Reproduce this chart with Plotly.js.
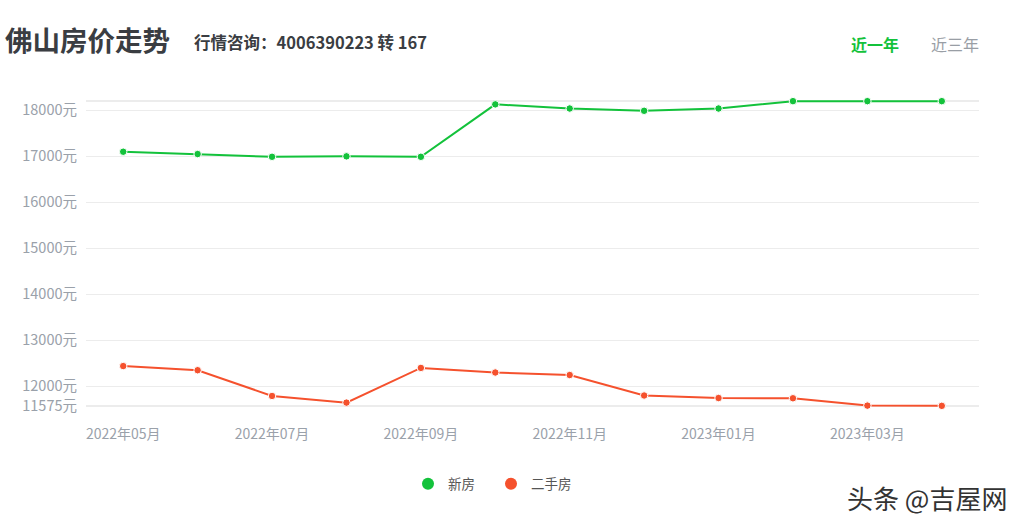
<!DOCTYPE html>
<html>
<head>
<meta charset="utf-8">
<script src="https://cdn.plot.ly/plotly-3.0.1.min.js"></script>
<style>
html,body{margin:0;padding:0;background:#fff;}
#chart{width:1024px;height:528px;}
</style>
</head>
<body>
<div id="chart"></div>
<script>
const months = ["2022年05月","2022年06月","2022年07月","2022年08月","2022年09月","2022年10月","2022年11月","2022年12月","2023年01月","2023年02月","2023年03月","2023年04月"];
const newHouse = [17100, 17050, 16990, 17000, 16990, 18130, 18040, 17990, 18040, 18200, 18200, 18200];
const secondHand = [12440, 12350, 11790, 11645, 12400, 12300, 12245, 11800, 11745, 11740, 11580, 11575];
const yTickVals = [11575, 12000, 13000, 14000, 15000, 16000, 17000, 18000, 18200];
const yTickText = ["11575元","12000元","13000元","14000元","15000元","16000元","17000元","18000元",""];
const xTickVals = ["2022年05月","2022年07月","2022年09月","2022年11月","2023年01月","2023年03月"];
const seriesNames = ["新房","二手房"];

const GREEN = "#13c23b";
const RED = "#f5512d";
const FONT = "'Noto Sans CJK SC', 'Noto Sans', sans-serif";

const L = 86, R = 45, T = 100, B = 121;
const W = 1024, H = 528;
const pw = W - L - R, ph = H - T - B;
const px = v => (v - L) / pw;
const py = v => (H - B - v) / ph;

const traces = [
  {x: months, y: newHouse, name: seriesNames[0], type: "scatter", mode: "lines+markers", cliponaxis: false,
   line: {color: GREEN, width: 2}, marker: {color: GREEN, size: 7.5, line: {color: "#fff", width: 1}},
   showlegend: false, hoverinfo: "x+y"},
  {x: months, y: secondHand, name: seriesNames[1], type: "scatter", mode: "lines+markers", cliponaxis: false,
   line: {color: RED, width: 2}, marker: {color: RED, size: 7.5, line: {color: "#fff", width: 1}},
   showlegend: false, hoverinfo: "x+y"},
  {x: [null], y: [null], name: seriesNames[0], type: "scatter", mode: "markers",
   marker: {color: GREEN, size: 12}, showlegend: true},
  {x: [null], y: [null], name: seriesNames[1], type: "scatter", mode: "markers",
   marker: {color: RED, size: 12}, showlegend: true}
];

const layout = {
  width: W, height: H,
  margin: {l: L, r: R, t: T, b: B, pad: 0},
  paper_bgcolor: "#fff", plot_bgcolor: "#fff",
  font: {family: FONT, color: "#9aa1aa", size: 13},
  showlegend: true,
  legend: {orientation: "h", x: px(408), xanchor: "left", y: py(484), yanchor: "middle",
           font: {family: FONT, size: 13.5, color: "#555"}, itemwidth: 30, tracegroupgap: 0,
           entrywidth: 38, entrywidthmode: "pixels"},
  xaxis: {type: "category", range: [-0.5, 11.5], tickmode: "array", tickvals: xTickVals,
          showgrid: false, zeroline: false, showline: false, ticks: "",
          ticklabelstandoff: 17, tickfont: {family: FONT, size: 14, color: "#9aa1aa"}, fixedrange: true},
  yaxis: {range: [11550, 18225], tickmode: "array", tickvals: yTickVals, ticktext: yTickText,
          showgrid: true, gridcolor: "#ececec", gridwidth: 1.5, zeroline: false, showline: false,
          ticks: "", ticklabelstandoff: 8, tickfont: {family: FONT, size: 14.5, color: "#9aa1aa"}, fixedrange: true},
  annotations: [
    {xref: "paper", yref: "paper", x: px(3), y: py(39), xanchor: "left", yanchor: "middle",
     text: "<b>佛山房价走势</b>", showarrow: false, font: {family: FONT, size: 27.5, color: "#3a3d42"}},
    {xref: "paper", yref: "paper", x: px(192), y: py(42), xanchor: "left", yanchor: "middle",
     text: "<b>行情咨询：4006390223 转 167</b>", showarrow: false, font: {family: FONT, size: 16.5, color: "#3a3d42"}},
    {xref: "paper", yref: "paper", x: px(849), y: py(44), xanchor: "left", yanchor: "middle",
     text: "<b>近一年</b>", showarrow: false, font: {family: FONT, size: 16, color: GREEN}},
    {xref: "paper", yref: "paper", x: px(929), y: py(44), xanchor: "left", yanchor: "middle",
     text: "近三年", showarrow: false, font: {family: FONT, size: 16, color: "#999ea5"}},
    {xref: "paper", yref: "paper", x: px(845), y: py(497), xanchor: "left", yanchor: "middle",
     text: "头条 @吉屋网", showarrow: false, font: {family: FONT, size: 26, color: "#333"}}
  ]
};

Plotly.newPlot("chart", traces, layout, {displayModeBar: false, staticPlot: true});
</script>
</body>
</html>
